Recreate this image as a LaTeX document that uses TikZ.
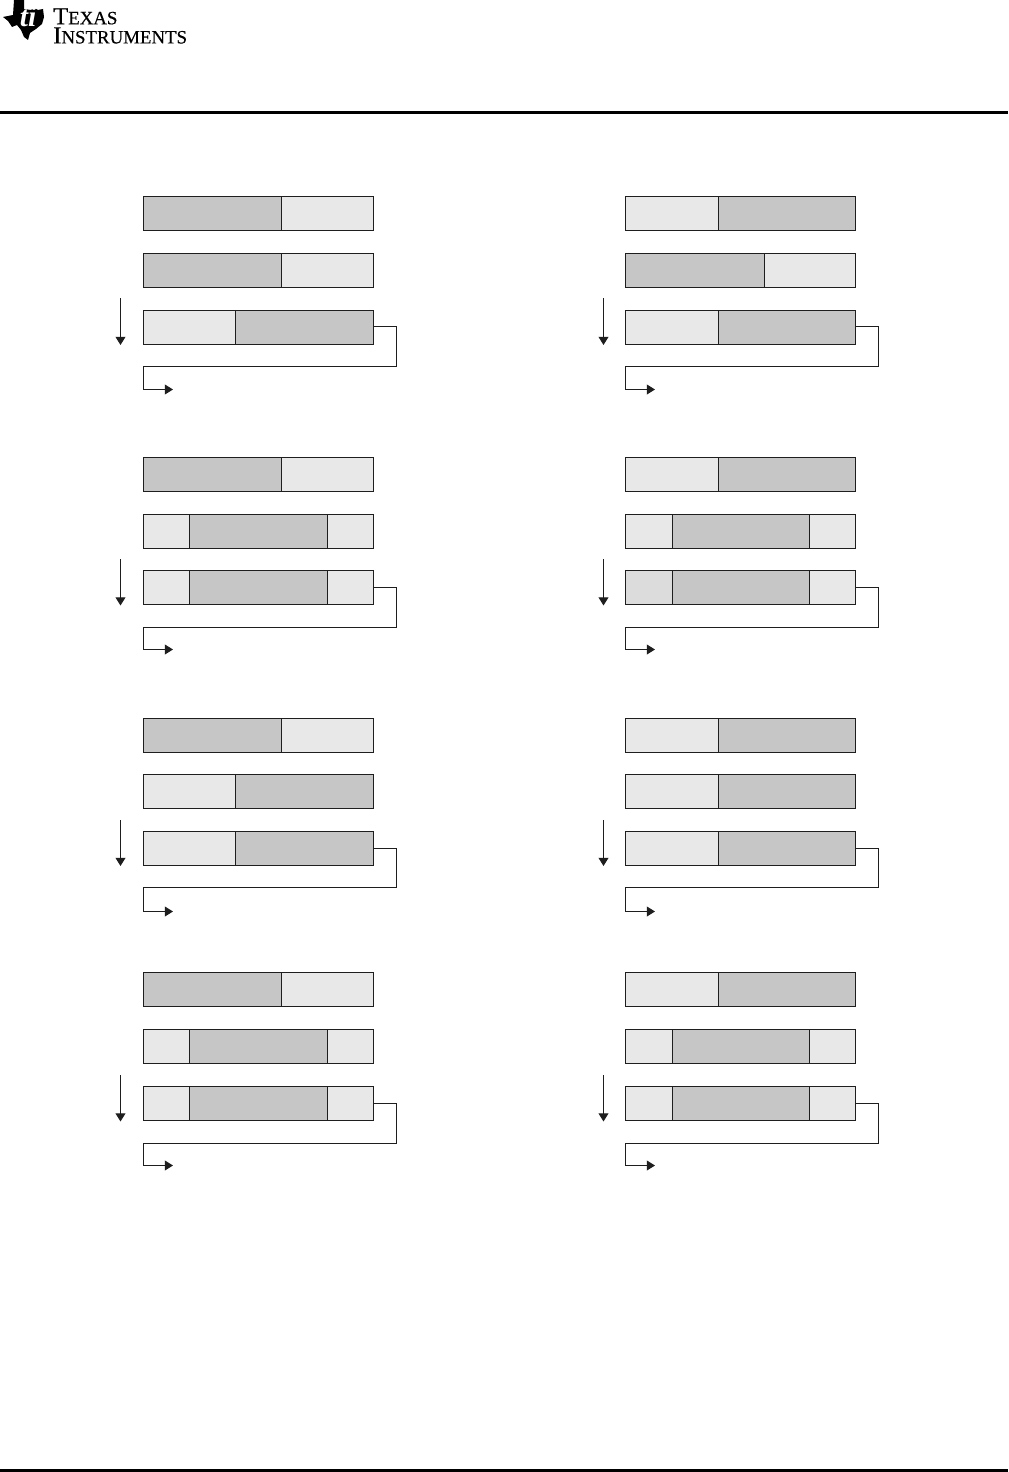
\documentclass[tikz,border=0pt]{standalone}
\usepackage{fontspec}
\setmainfont{Liberation Serif}
\newfontfamily\logofont[FakeBold=0.35]{Liberation Serif}
\usepackage{tikz}
\usetikzlibrary{arrows.meta}
\definecolor{barDark}{HTML}{C6C6C6}
\definecolor{barLight}{HTML}{E8E8E8}
\definecolor{barMid}{HTML}{DCDCDC}
\definecolor{barLine}{HTML}{1E1E1E}
\tikzset{
    cellbase/.style={draw=barLine, line width=0.75pt, inner sep=0, outer sep=0, minimum height=0.85cm},
    dark/.style={cellbase, fill=barDark},
    light/.style={cellbase, fill=barLight},
    mid/.style={cellbase, fill=barMid},
    flow/.style={draw=barLine, line width=0.75pt},
    tipped/.style={flow, -{Triangle[length=5.8pt, width=7pt]}},
    rule/.style={fill=black}
}
% style, name, left edge, right edge, row
\newcommand{\cell}[5]{\node[#1, minimum width={(#4-#3)*0.025cm}] (#2) at ({(#3+#4)/2}, #5) {};}

\begin{document}
\begin{tikzpicture}[x=0.025cm, y=-0.025cm]
    \useasboundingbox (0, 0) rectangle (1008, 1472);

    % Header and footer
    \fill[rule] (0, 111) rectangle (1008, 114);
    \fill[rule] (0, 1469) rectangle (1008, 1472);
    \fill[black] (14, 0) -- (24, 0) -- (24, 9) -- (31, 10) -- (34, 8) -- (38, 10) -- (43, 9)
        -- (44, 17) -- (42, 24) -- (36, 29) -- (30, 33) -- (28, 40) -- (24, 37) -- (21, 30)
        -- (17, 25) -- (12, 27) -- (8, 21) -- (3, 17) -- (13, 15) -- cycle;
    \node[text=white, font=\bfseries\itshape\fontsize{21}{21}\selectfont] (tiMark) at (28, 16) {ti};
    \node[anchor=north west, inner sep=0, align=left, font=\logofont\fontsize{17.4}{13.6}\selectfont] (logoText) at (53, 8)
        {T{\fontsize{13.4}{13.6}\selectfont EXAS}\\I{\fontsize{13.4}{13.6}\selectfont NSTRUMENTS}};

    % Left column, first group
    \cell{dark}{aa}{143.5}{281.5}{213.5}
    \cell{light}{ab}{281.5}{373.5}{213.5}
    \cell{dark}{ac}{143.5}{281.5}{270.5}
    \cell{light}{ad}{281.5}{373.5}{270.5}
    \cell{light}{ae}{143.5}{235.5}{327.5}
    \cell{dark}{af}{235.5}{373.5}{327.5}
    \coordinate (aTop) at (120.5, 298);
    \coordinate (aTip) at (120.5, 345);
    \coordinate (aEnd) at (173, 389.5);
    \draw[tipped] (aTop) -- (aTip);
    \draw[tipped] ([yshift=0.025cm]af.east) -- ++(23, 0) -- ++(0, 40) -- ++(-253, 0) |- (aEnd);

    % Left column, second group
    \cell{dark}{ba}{143.5}{281.5}{474.5}
    \cell{light}{bb}{281.5}{373.5}{474.5}
    \cell{light}{bc}{143.5}{189.5}{531.5}
    \cell{dark}{bd}{189.5}{327.5}{531.5}
    \cell{light}{be}{327.5}{373.5}{531.5}
    \cell{light}{bf}{143.5}{189.5}{587.5}
    \cell{dark}{bg}{189.5}{327.5}{587.5}
    \cell{light}{bh}{327.5}{373.5}{587.5}
    \coordinate (bTop) at (120.5, 559);
    \coordinate (bTip) at (120.5, 605.5);
    \coordinate (bEnd) at (173, 649.5);
    \draw[tipped] (bTop) -- (bTip);
    \draw[tipped] (bh.east) -- ++(23, 0) -- ++(0, 40) -- ++(-253, 0) |- (bEnd);

    % Left column, third group
    \cell{dark}{ca}{143.5}{281.5}{735.5}
    \cell{light}{cb}{281.5}{373.5}{735.5}
    \cell{light}{cc}{143.5}{235.5}{791.5}
    \cell{dark}{cd}{235.5}{373.5}{791.5}
    \cell{light}{ce}{143.5}{235.5}{848.5}
    \cell{dark}{cf}{235.5}{373.5}{848.5}
    \coordinate (cTop) at (120.5, 820);
    \coordinate (cTip) at (120.5, 866);
    \coordinate (cEnd) at (173, 911.5);
    \draw[tipped] (cTop) -- (cTip);
    \draw[tipped] (cf.east) -- ++(23, 0) -- ++(0, 39) -- ++(-253, 0) |- (cEnd);

    % Left column, fourth group
    \cell{dark}{da}{143.5}{281.5}{989.5}
    \cell{light}{db}{281.5}{373.5}{989.5}
    \cell{light}{dc}{143.5}{189.5}{1046.5}
    \cell{dark}{dd}{189.5}{327.5}{1046.5}
    \cell{light}{de}{327.5}{373.5}{1046.5}
    \cell{light}{df}{143.5}{189.5}{1103.5}
    \cell{dark}{dg}{189.5}{327.5}{1103.5}
    \cell{light}{dh}{327.5}{373.5}{1103.5}
    \coordinate (dTop) at (120.5, 1075);
    \coordinate (dTip) at (120.5, 1121.5);
    \coordinate (dEnd) at (173, 1165.5);
    \draw[tipped] (dTop) -- (dTip);
    \draw[tipped] (dh.east) -- ++(23, 0) -- ++(0, 40) -- ++(-253, 0) |- (dEnd);

    % Right column, first group
    \cell{light}{ea}{625.5}{718.5}{213.5}
    \cell{dark}{eb}{718.5}{855.5}{213.5}
    \cell{dark}{ec}{625.5}{764.5}{270.5}
    \cell{light}{ed}{764.5}{855.5}{270.5}
    \cell{light}{ee}{625.5}{718.5}{327.5}
    \cell{dark}{ef}{718.5}{855.5}{327.5}
    \coordinate (eTop) at (603.5, 298);
    \coordinate (eTip) at (603.5, 345);
    \coordinate (eEnd) at (655, 389.5);
    \draw[tipped] (eTop) -- (eTip);
    \draw[tipped] ([yshift=0.025cm]ef.east) -- ++(23, 0) -- ++(0, 40) -- ++(-253, 0) |- (eEnd);

    % Right column, second group
    \cell{light}{fa}{625.5}{718.5}{474.5}
    \cell{dark}{fb}{718.5}{855.5}{474.5}
    \cell{light}{fc}{625.5}{672.5}{531.5}
    \cell{dark}{fd}{672.5}{809.5}{531.5}
    \cell{light}{fe}{809.5}{855.5}{531.5}
    \cell{mid}{ff}{625.5}{672.5}{587.5}
    \cell{dark}{fg}{672.5}{809.5}{587.5}
    \cell{light}{fh}{809.5}{855.5}{587.5}
    \coordinate (fTop) at (603.5, 559);
    \coordinate (fTip) at (603.5, 605.5);
    \coordinate (fEnd) at (655, 649.5);
    \draw[tipped] (fTop) -- (fTip);
    \draw[tipped] (fh.east) -- ++(23, 0) -- ++(0, 40) -- ++(-253, 0) |- (fEnd);

    % Right column, third group
    \cell{light}{ga}{625.5}{718.5}{735.5}
    \cell{dark}{gb}{718.5}{855.5}{735.5}
    \cell{light}{gc}{625.5}{718.5}{791.5}
    \cell{dark}{gd}{718.5}{855.5}{791.5}
    \cell{light}{ge}{625.5}{718.5}{848.5}
    \cell{dark}{gf}{718.5}{855.5}{848.5}
    \coordinate (gTop) at (603.5, 820);
    \coordinate (gTip) at (603.5, 866);
    \coordinate (gEnd) at (655, 911.5);
    \draw[tipped] (gTop) -- (gTip);
    \draw[tipped] (gf.east) -- ++(23, 0) -- ++(0, 39) -- ++(-253, 0) |- (gEnd);

    % Right column, fourth group
    \cell{light}{ha}{625.5}{718.5}{989.5}
    \cell{dark}{hb}{718.5}{855.5}{989.5}
    \cell{light}{hc}{625.5}{672.5}{1046.5}
    \cell{dark}{hd}{672.5}{809.5}{1046.5}
    \cell{light}{he}{809.5}{855.5}{1046.5}
    \cell{light}{hf}{625.5}{672.5}{1103.5}
    \cell{dark}{hg}{672.5}{809.5}{1103.5}
    \cell{light}{hh}{809.5}{855.5}{1103.5}
    \coordinate (hTop) at (603.5, 1075);
    \coordinate (hTip) at (603.5, 1121.5);
    \coordinate (hEnd) at (655, 1165.5);
    \draw[tipped] (hTop) -- (hTip);
    \draw[tipped] (hh.east) -- ++(23, 0) -- ++(0, 40) -- ++(-253, 0) |- (hEnd);
\end{tikzpicture}
\end{document}
